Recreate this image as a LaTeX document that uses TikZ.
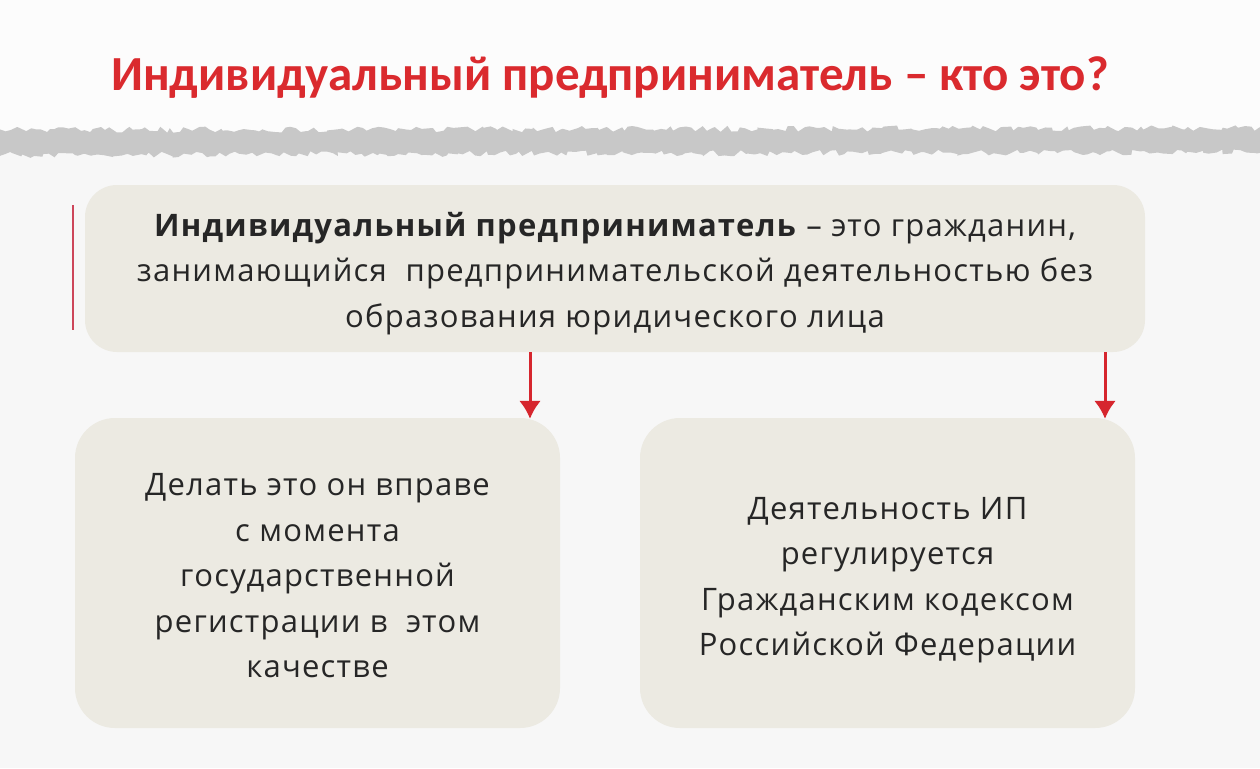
\documentclass[tikz,border=0pt]{standalone}
\usepackage{fontspec}
\setmainfont{Open Sans}[LetterSpace=4]
\newfontfamily\titlefont{Carlito}
\usetikzlibrary{arrows.meta,decorations.pathmorphing}
\definecolor{bg}{RGB}{247,247,247}
\definecolor{boxfill}{RGB}{236,234,226}
\definecolor{titlered}{RGB}{218,42,46}
\definecolor{arrred}{RGB}{214,38,46}
\definecolor{barpink}{RGB}{205,70,90}
\definecolor{band}{RGB}{200,200,200}
\definecolor{txt}{RGB}{38,38,38}
\tikzset{
  box/.style={fill=boxfill, draw=none, rounded corners=32pt, inner sep=0pt},
  boxtext/.style={inner sep=0pt, text=txt, align=center, font=\fontsize{31}{45.5}\selectfont},
  arr/.style={draw=arrred, line width=3pt, -{Latex[length=18pt,width=22pt]}, shorten >=2pt},
}
\begin{document}
\begin{tikzpicture}[x=1pt,y=-1pt]
\useasboundingbox (0,0) rectangle (1260,768);
\fill[bg] (0,0) rectangle (1260,768);
\fill[white!60!bg] (0,0) rectangle (1260,140);
% torn band
\pgfmathsetseed{7}
\fill[band, decorate, decoration={random steps, segment length=5pt, amplitude=3pt}]
  (-5,130) -- (1265,128) -- (1265,152) -- (-5,155) -- cycle;
% title
\node[text=titlered, font=\titlefont\bfseries\fontsize{49}{55}\selectfont] (title) at (610,78)
  {Индивидуальный предприниматель – кто это?};
% boxes
\node[box, minimum width=1060pt, minimum height=167pt] (top) at (615,268.5) {};
\node[box, rounded corners=40pt, minimum width=485pt, minimum height=310pt] (left) at (317.5,573) {};
\node[box, rounded corners=40pt, minimum width=495pt, minimum height=310pt] (right) at (887.5,573) {};
% texts
\node[boxtext] (toptext) at ([yshift=-5pt]top.center)
  {\textbf{Индивидуальный предприниматель} – это гражданин,\\
   занимающийся \ предпринимательской деятельностью без\\
   образования юридического лица};
\node[boxtext] (lefttext) at ([yshift=-3pt]left.center)
  {Делать это он вправе\\ с момента\\ государственной\\ регистрации в \ этом\\ качестве};
\node[boxtext] (righttext) at ([yshift=-7pt]right.center)
  {Деятельность ИП\\ регулируется\\ Гражданским кодексом\\ Российской Федерации};
% red side bar
\draw[barpink, line width=2pt] (73,205) -- (73,330);
% arrows
\coordinate (a1) at (530,0);
\coordinate (a2) at (1105,0);
\draw[arr] (top.south -| a1) -- ([yshift=-3pt]left.north -| a1);
\draw[arr] (top.south -| a2) -- ([yshift=-3pt]right.north -| a2);
\end{tikzpicture}
\end{document}
